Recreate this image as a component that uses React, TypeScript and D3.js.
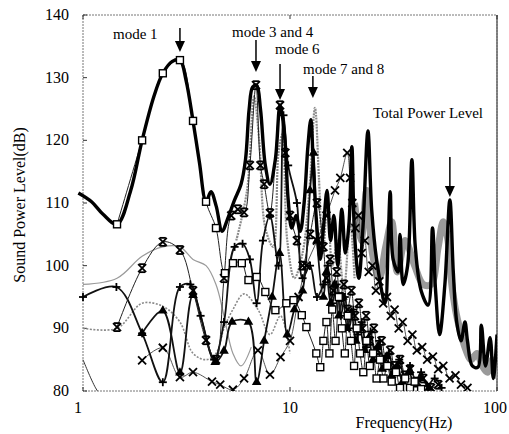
import React, { useEffect, useRef } from 'react';
import * as d3 from 'd3';

type Pt = [number, number];

const freqTicks = [1, 10, 100];
const dbTicks = [80, 90, 100, 110, 120, 130, 140];

// thick black curve: Total Power Level
const totalPower: Pt[] = [
  [0.95, 111.6], [1.1, 110.2], [1.25, 108.2], [1.46, 106.6], [1.7, 112], [1.93, 120], [2.2, 127],
  [2.43, 130.7], [2.7, 132.6], [2.94, 132.8], [3.15, 129.5], [3.4, 123.1], [3.65, 116.5], [3.93, 110.2],
  [4.15, 111.8], [4.4, 109.5], [4.7, 105.5], [5.0, 107.5], [5.4, 110.5], [5.8, 113], [6.1, 117],
  [6.35, 125], [6.6, 128.5], [6.9, 128.8], [7.2, 125], [7.6, 116], [8.0, 113], [8.5, 117], [8.95, 125.6],
  [9.4, 121], [9.8, 110.5], [10.2, 106], [10.7, 108], [11.2, 105.5], [11.7, 110], [12.2, 119],
  [12.6, 123.3], [13.0, 115], [13.5, 106], [14.0, 101], [14.5, 106], [15.1, 112], [15.7, 104],
  [16.3, 108], [17.0, 100], [17.8, 109], [18.5, 102], [19.3, 107], [19.9, 119], [20.5, 105],
  [21.5, 98], [22.5, 106], [23.8, 121.5], [24.8, 109], [26.2, 101], [28.8, 94], [29.8, 104],
  [30.5, 111.8], [31.5, 101], [33.3, 99], [34, 105], [35.2, 97], [37, 100], [38.8, 116.9],
  [40.3, 103], [43, 96], [46.5, 93.7], [48.8, 106], [50.5, 96], [52.8, 89], [56, 97], [59.2, 110.5],
  [61.5, 99], [64, 90.8], [67, 88], [70, 91], [72, 88], [76, 84], [80.9, 83.8], [84, 90.5],
  [88, 84], [92.6, 88.5], [96, 82], [100, 89],
];

// grey shading under the high-frequency part of the total level
const totalShade: Pt[] = [
  [20.5, 110], [22, 104], [23.5, 112], [25, 102], [27, 98], [29, 103], [31, 107], [33, 99],
  [36, 104], [40, 100], [44, 97], [48, 97], [52, 103], [55, 107], [58, 104], [60, 98],
  [63, 93], [66, 90], [70, 87], [75, 85], [80, 86], [85, 84], [90, 83], [95, 85], [100, 82],
];

// grey companion peaks (mode 3/4, mode 6, mode 7/8)
const greyPeaks: Pt[] = [
  [5.5, 104], [6.2, 112], [6.7, 127], [7.1, 120], [7.6, 106], [8.3, 103], [8.8, 118], [9.2, 121],
  [9.7, 104], [10.5, 98], [11.5, 102], [12.4, 112], [13.2, 125.2], [13.8, 114], [14.4, 102],
  [15.2, 110], [16, 100], [17, 104], [18.2, 96], [19.5, 107], [20.5, 98],
];

const squareSeries: Pt[] = [
  [1.46, 106.6], [1.93, 120], [2.43, 130.7], [2.94, 132.8], [3.4, 123.1], [3.93, 110.2],
  [4.39, 106], [4.85, 98.8], [5.3, 100.4], [5.85, 100.4], [6.3, 97.7], [6.9, 98.2], [7.6, 95.8],
  [8.5, 92.9], [9.6, 94], [10.4, 94.5], [11.4, 92.1], [12, 90.2], [13.4, 86], [14, 83.8],
  [14.5, 88], [15, 91], [15.5, 86], [16, 93], [16.6, 88], [17.2, 95], [17.8, 90], [18.4, 86],
  [19, 92], [19.7, 88], [20.4, 84], [21, 90], [21.8, 86], [22.6, 83], [23.4, 88], [24.3, 84],
  [25.2, 86], [26.2, 82], [27.2, 85], [28.3, 82], [29.5, 84], [31, 81.5], [32.5, 83], [34, 80.5],
  [36, 82], [38, 80.5], [40, 81.5], [43, 80.3],
];

const starSeries: Pt[] = [
  [1.46, 90.2], [1.93, 99.6], [2.43, 103.8], [2.94, 102.5], [3.4, 96], [3.93, 88.1], [4.39, 85],
  [4.8, 98], [5.2, 108], [5.6, 109], [6.0, 108.5], [6.4, 116], [6.85, 128.8], [7.2, 116],
  [7.5, 113], [8.0, 108.4], [8.95, 125.6], [9.5, 118], [10, 108], [10.8, 104], [11.5, 100],
  [12.5, 105], [13.5, 110], [14.5, 103], [15, 98], [15.6, 101], [16.2, 96], [16.8, 99],
  [17.5, 95], [18.2, 97], [19, 93], [19.8, 96], [20.6, 92], [21.5, 94], [22.4, 90], [23.3, 92],
  [24.3, 88], [25.4, 90], [26.5, 86.5], [27.7, 88], [29, 85], [30.5, 86.5], [32, 84], [34, 85],
  [36, 82.5], [38, 83.5], [41, 81.5], [44, 82], [48, 80.5], [52, 81],
];

const plusSeries: Pt[] = [
  [1, 95], [1.45, 96.6], [1.93, 89.2], [2.43, 81.4], [2.94, 96.6], [3.3, 97], [3.7, 92],
  [4.3, 85], [4.8, 91], [5.4, 103], [5.9, 103.5], [6.4, 101], [6.9, 94], [7.4, 104], [8.0, 108],
  [8.8, 100], [9.3, 124], [9.8, 116], [10.8, 110], [11.5, 98], [12.5, 100], [13.5, 95],
  [14.5, 97], [15.2, 100], [16, 94], [16.8, 97], [17.6, 92], [18.4, 95], [19.3, 90], [20.2, 93],
  [21.2, 89], [22.2, 91], [23.3, 87], [24.5, 89.5], [25.7, 86], [27, 88], [28.5, 84.5], [30, 86],
  [31.8, 83], [33.7, 85], [35.7, 82], [38, 84], [40.5, 81.5], [43, 83], [46, 80.8], [50, 82],
  [54, 80.5],
];

const triangleSeries: Pt[] = [
  [1.93, 89.2], [2.43, 92.8], [2.94, 82.9], [3.4, 95.3], [4.35, 84.6], [4.8, 86.4], [5.25, 91],
  [6.3, 91], [6.9, 81.4], [7.5, 88], [8.2, 95], [8.9, 102], [9.7, 89], [10.5, 93], [11.5, 96],
  [12.5, 112], [13, 118], [13.5, 104], [14.5, 95], [15, 99], [15.7, 94], [16.4, 97], [17.2, 92],
  [18, 95], [18.9, 90], [19.8, 92.5], [20.8, 88], [21.8, 90], [22.9, 86.5], [24, 88.5],
  [25.2, 85], [26.5, 87], [27.9, 83.5], [29.4, 85.5], [31, 82.5], [33, 84], [35, 81.5],
  [37.5, 83], [40, 81], [43, 82], [47, 80.5],
];

const crossSeries: Pt[] = [
  [1.93, 84.9], [2.43, 86.9], [2.94, 82.2], [3.4, 83], [4.2, 81.5], [4.6, 81], [5.3, 80.2],
  [6.0, 82], [7.0, 86.5], [8.0, 82.6], [9.0, 85.4], [10, 88], [11, 95], [12, 100], [13.5, 104],
  [15, 108], [16.5, 112], [17.5, 114], [18.9, 118], [19.5, 114], [20, 110], [20.7, 106],
  [21.4, 108], [22.2, 102], [23, 104], [24, 99], [25, 100], [26, 96], [27, 97.5], [28.2, 94],
  [29.4, 95], [30.7, 92], [32, 93], [33.5, 90], [35, 91], [37, 88], [39, 89], [41, 86.5],
  [43.5, 87], [46, 85], [49, 85.5], [52, 83.5], [55, 84], [59, 82], [63, 82.5], [67, 81],
  [72, 80.5],
];

// plain thin lines at low frequency
const greyLine: Pt[] = [
  [1, 97], [1.46, 98], [1.93, 101.5], [2.43, 103], [2.94, 103], [3.4, 101], [3.93, 100],
  [4.39, 97], [4.8, 92], [5.3, 86], [5.8, 84], [6.5, 87],
];
const dottedLine: Pt[] = [
  [1, 90], [1.46, 90], [1.93, 94], [2.43, 93.5], [2.94, 91], [3.4, 86], [3.93, 85], [4.39, 86],
  [4.8, 90], [5.3, 93], [6, 95.5], [7, 93], [8, 89], [9, 92], [10, 86],
];
const thinLine: Pt[] = [
  [1, 85], [1.15, 80.5], [1.3, 78],
];

const Chart = () => {
  const ref = useRef<SVGSVGElement>(null);
  const width = 509;
  const height = 434;
  const margin = { top: 15, right: 12, bottom: 43, left: 83 };

  useEffect(() => {
    const svg = d3.select(ref.current);
    svg.selectAll('*').remove();

    const x = d3.scaleLog().domain([1, 100]).range([margin.left, width - margin.right]);
    const y = d3.scaleLinear().domain([80, 140]).range([height - margin.bottom, margin.top]);
    const font = '"Liberation Serif", "DejaVu Serif", serif';

    svg.append('defs').append('clipPath').attr('id', 'plot')
      .append('rect')
      .attr('x', margin.left - 6).attr('y', margin.top)
      .attr('width', width - margin.right - margin.left + 6)
      .attr('height', height - margin.bottom - margin.top);

    // frame
    const frame = svg.append('g').attr('fill', 'none');
    frame.append('rect')
      .attr('x', x(1)).attr('y', y(140))
      .attr('width', x(100) - x(1)).attr('height', y(80) - y(140))
      .attr('stroke', '#777').attr('stroke-width', 1).attr('stroke-dasharray', '2,1');
    frame.append('line')
      .attr('x1', x(100)).attr('x2', x(100)).attr('y1', y(140)).attr('y2', y(80))
      .attr('stroke', '#666').attr('stroke-width', 1.5);

    // y ticks
    svg.append('g').selectAll('g').data(dbTicks).enter().append('g')
      .call(g => {
        g.append('line')
          .attr('x1', x(1)).attr('x2', x(1) + 4)
          .attr('y1', d => y(d)).attr('y2', d => y(d))
          .attr('stroke', '#333');
        g.append('text')
          .attr('x', 69).attr('y', d => y(d) + 5)
          .attr('text-anchor', 'end')
          .attr('font-family', font).attr('font-size', 16)
          .text(d => d);
      });

    // x ticks (the last label sits flush with the right edge)
    const labelX = [78, 290, 507];
    svg.append('g').selectAll('g').data(freqTicks).enter().append('g')
      .call(g => {
        g.append('line')
          .attr('x1', d => x(d)).attr('x2', d => x(d))
          .attr('y1', y(80)).attr('y2', y(80) - 4)
          .attr('stroke', '#333');
        g.append('line')
          .attr('x1', d => x(d)).attr('x2', d => x(d))
          .attr('y1', y(140)).attr('y2', y(140) + 4)
          .attr('stroke', '#333');
        g.append('text')
          .attr('x', (d, i) => labelX[i]).attr('y', 413)
          .attr('text-anchor', (d, i) => (i === 2 ? 'end' : 'middle'))
          .attr('font-family', font).attr('font-size', 16)
          .text(d => d);
      });

    svg.append('text')
      .attr('x', 404).attr('y', 428)
      .attr('text-anchor', 'middle')
      .attr('font-family', font).attr('font-size', 16)
      .text('Frequency(Hz)');
    svg.append('text')
      .attr('transform', `translate(25, 205) rotate(-90)`)
      .attr('text-anchor', 'middle')
      .attr('font-family', font).attr('font-size', 16)
      .text('Sound Power Level(dB)');

    const plot = svg.append('g').attr('clip-path', 'url(#plot)');
    const line = d3.line<Pt>()
      .x(d => x(d[0]))
      .y(d => y(d[1]))
      .curve(d3.curveCatmullRom.alpha(0.5));

    const drawLine = (data: Pt[], stroke: string, w: number, dash?: string) => {
      plot.append('path')
        .datum(data)
        .attr('fill', 'none')
        .attr('stroke', stroke)
        .attr('stroke-width', w)
        .attr('stroke-dasharray', dash || null)
        .attr('stroke-linejoin', 'round')
        .attr('d', line);
    };

    drawLine(totalShade, '#9a9a9a', 7);
    drawLine(greyLine, '#9a9a9a', 1.2);
    drawLine(dottedLine, '#8a8a8a', 1.6, '2,1.5');
    drawLine(thinLine, '#333', 1);
    drawLine(greyPeaks, '#8c8c8c', 2.2, '2,1');
    drawLine(crossSeries, '#555', 1);
    drawLine(triangleSeries, '#111', 1.8);
    drawLine(plusSeries, '#111', 1.8);
    drawLine(starSeries, '#222', 1);
    drawLine(squareSeries, '#222', 1);
    drawLine(totalPower, '#000', 3.4);

    const marks = (data: Pt[], kind: string) => {
      const g = plot.append('g').selectAll('g').data(data).enter().append('g')
        .attr('transform', d => `translate(${x(d[0])},${y(d[1])})`);
      if (kind === 'square') {
        g.append('rect').attr('x', -3.5).attr('y', -3.5).attr('width', 7).attr('height', 7)
          .attr('fill', '#fff').attr('stroke', '#000').attr('stroke-width', 1.4);
      } else if (kind === 'triangle') {
        g.append('path').attr('d', d3.symbol(d3.symbolTriangle, 40)).attr('fill', '#000');
      } else {
        const s = 4;
        const segs: number[][] = [];
        if (kind === 'cross' || kind === 'star') segs.push([-s, -s, s, s], [-s, s, s, -s]);
        if (kind === 'plus') segs.push([-s, 0, s, 0], [0, -s, 0, s]);
        if (kind === 'star') segs.push([-s + 1, -s, s - 1, -s], [-s + 1, s, s - 1, s]);
        segs.forEach(p => {
          g.append('line')
            .attr('x1', p[0]).attr('y1', p[1]).attr('x2', p[2]).attr('y2', p[3])
            .attr('stroke', '#000').attr('stroke-width', 1.8);
        });
      }
    };

    marks(crossSeries, 'cross');
    marks(triangleSeries, 'triangle');
    marks(plusSeries, 'plus');
    marks(starSeries, 'star');
    marks(squareSeries, 'square');

    // mode annotations
    const notes = [
      { text: 'mode 1', tx: 113, ty: 39, ax: x(2.94), a1: 28, a2: 52 },
      { text: 'mode 3 and 4', tx: 232, ty: 37, ax: x(6.85), a1: 40, a2: 72 },
      { text: 'mode 6', tx: 275, ty: 54, ax: x(8.95), a1: 64, a2: 100 },
      { text: 'mode 7 and 8', tx: 303, ty: 74, ax: x(12.9), a1: 76, a2: 98 },
      { text: 'Total Power Level', tx: 373, ty: 118, ax: x(59.2), a1: 157, a2: 197 },
    ];
    const ann = svg.append('g').selectAll('g').data(notes).enter().append('g');
    ann.append('text')
      .attr('x', d => d.tx).attr('y', d => d.ty)
      .attr('font-family', font).attr('font-size', 15)
      .attr('textLength', d => (d.text === 'Total Power Level' ? 110 : null))
      .text(d => d.text);
    ann.append('line')
      .attr('x1', d => d.ax).attr('x2', d => d.ax)
      .attr('y1', d => d.a1).attr('y2', d => d.a2 - 8)
      .attr('stroke', '#000').attr('stroke-width', 1.5);
    ann.append('path')
      .attr('d', d => `M${d.ax - 5},${d.a2 - 11} L${d.ax + 5},${d.a2 - 11} L${d.ax},${d.a2} Z`)
      .attr('fill', '#000');
  }, []);

  return (
    <svg ref={ref} width={width} height={height}
      style={{ display: 'block', position: 'absolute', left: 0, top: 0, background: '#fff' }} />
  );
};

export default function App() {
  return <Chart />;
}
